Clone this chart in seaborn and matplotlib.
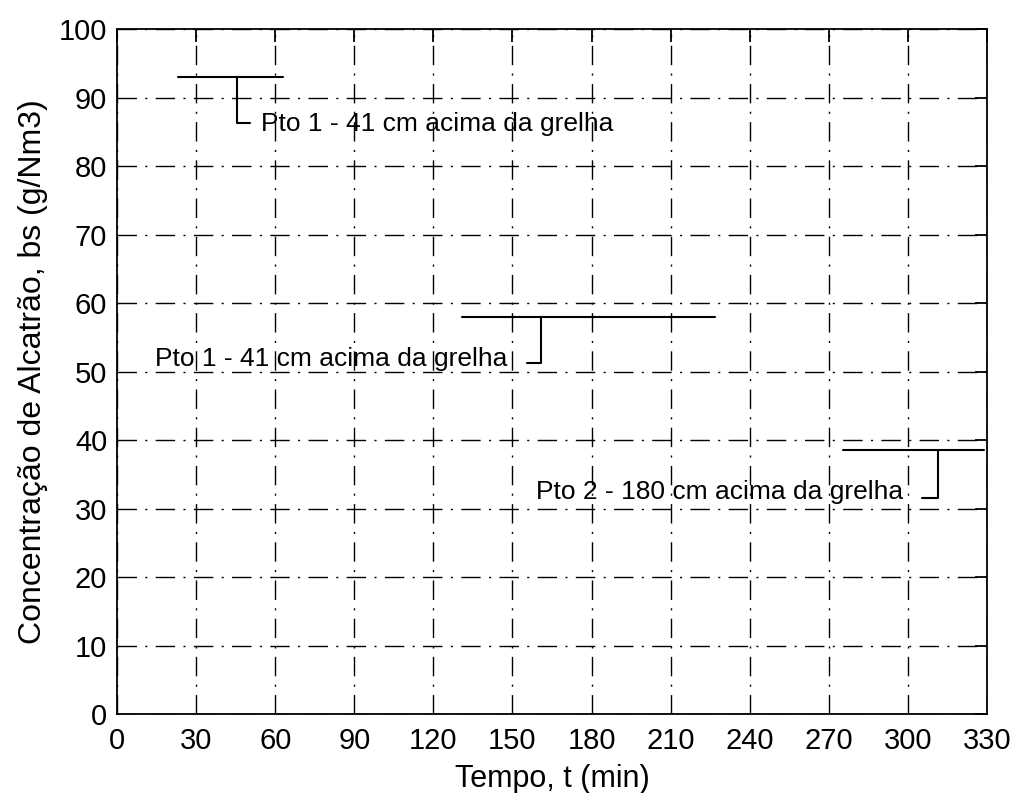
import matplotlib
matplotlib.use("Agg")
import matplotlib.pyplot as plt
import pandas as pd
import seaborn as sns

# Horizontal tar-concentration segments (time span and level)
seg_t_start = [23, 131, 275.5]
seg_t_end = [63, 227, 329]
seg_conc = [93, 58, 38.5]

# Leader lines: drop from segment down to label, then turn to the label
lead_t = [45.5, 161, 311.5]
lead_conc = [86.3, 51.2, 31.6]
lead_t_end = [50.5, 155.5, 305.3]

labels = ["Pto 1 - 41 cm acima da grelha",
          "Pto 1 - 41 cm acima da grelha",
          "Pto 2 - 180 cm acima da grelha"]
label_t = [54.5, 148, 298]
label_conc = [86.1, 51.8, 32.4]
label_ha = ["left", "right", "right"]

x_ticks = list(range(0, 331, 30))
y_ticks = list(range(0, 101, 10))

sns.set_style("white")
plt.rcParams["font.family"] = ["Liberation Sans", "DejaVu Sans"]
plt.rcParams["text.color"] = "black"
plt.rcParams["axes.labelcolor"] = "black"
plt.rcParams["xtick.color"] = "black"
plt.rcParams["ytick.color"] = "black"

fig = plt.figure(figsize=(10.16, 7.93), dpi=100)
ax = fig.add_axes([0.1152, 0.0996, 0.8563, 0.8638])

for i in range(len(seg_conc)):
    seg = pd.DataFrame({"t": [seg_t_start[i], seg_t_end[i]],
                        "c": [seg_conc[i], seg_conc[i]]})
    sns.lineplot(data=seg, x="t", y="c", ax=ax, color="black", linewidth=1.5,
                 estimator=None, sort=False)
    lead = pd.DataFrame({"t": [lead_t[i], lead_t[i], lead_t_end[i]],
                         "c": [seg_conc[i], lead_conc[i], lead_conc[i]]})
    sns.lineplot(data=lead, x="t", y="c", ax=ax, color="black", linewidth=1.5,
                 estimator=None, sort=False)
    ax.text(label_t[i], label_conc[i], labels[i], ha=label_ha[i], va="center",
            fontsize=19, color="black")

ax.set_xlim(0, 330)
ax.set_ylim(0, 100)
ax.set_xticks(x_ticks)
ax.set_yticks(y_ticks)
ax.grid(True, color="black", linewidth=1.0, linestyle=(0, (14, 6, 1.5, 6)))
ax.tick_params(direction="in", length=9, width=1.3, labelsize=21,
               top=True, right=True, pad=7, labelcolor="black")
ax.tick_params(axis="x", pad=9)
for s in ax.spines.values():
    s.set_linewidth(1.3)
    s.set_color("black")
ax.set_xlabel("Tempo, t (min)", fontsize=22, labelpad=7)
ax.set_ylabel("Concentração de Alcatrão, bs (g/Nm3)", fontsize=23, labelpad=8)

fig.savefig("out.png", dpi=100)
